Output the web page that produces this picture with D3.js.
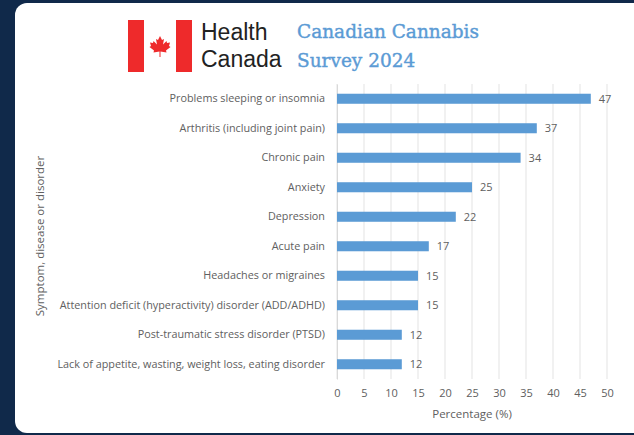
<!DOCTYPE html>
<html>
<head>
<meta charset="utf-8">
<script src="https://cdn.jsdelivr.net/npm/d3@7"></script>
<style>
  html, body { margin: 0; padding: 0; background: #10294a; }
  svg { display: block; }
</style>
</head>
<body>
<svg id="chart" width="634" height="435"></svg>
<script>

// data
const categories = [
  "Problems sleeping or insomnia",
  "Arthritis (including joint pain)",
  "Chronic pain",
  "Anxiety",
  "Depression",
  "Acute pain",
  "Headaches or migraines",
  "Attention deficit (hyperactivity) disorder (ADD/ADHD)",
  "Post-traumatic stress disorder (PTSD)",
  "Lack of appetite, wasting, weight loss, eating disorder"
];
const values = [47, 37, 34, 25, 22, 17, 15, 15, 12, 12];
const xTicks = [0, 5, 10, 15, 20, 25, 30, 35, 40, 45, 50];

const svg = d3.select("#chart");

// white card
svg.append("rect")
  .attr("x", 15).attr("y", 3)
  .attr("width", 640).attr("height", 430)
  .attr("rx", 12).attr("ry", 12)
  .attr("fill", "#ffffff");

// header: flag + wordmark
let head = svg.append("g").attr("transform", "translate(128,20)");
head.append("rect").attr("width", 64).attr("height", 52).attr("fill", "#ffffff");
head.append("rect").attr("width", 16).attr("height", 52).attr("fill", "#ee2a2b");
head.append("rect").attr("x", 48).attr("width", 16).attr("height", 52).attr("fill", "#ee2a2b");
// maple leaf (simplified)
head.append("path")
  .attr("transform", "translate(32,26) scale(0.5)")
  .attr("fill", "#ee2a2b")
  .attr("d", "M0,-20 L4,-12 L8,-14 L6,-3 L13,-10 L14,-6 L20,-7 L18,0 L21,2 L12,9 L13,13 L1,11 L1,22 L-1,22 L-1,11 L-13,13 L-12,9 L-21,2 L-18,0 L-20,-7 L-14,-6 L-13,-10 L-6,-3 L-8,-14 L-4,-12 Z");

svg.append("text").attr("x", 201).attr("y", 40)
  .style("font-family", "Liberation Sans, Arial, sans-serif")
  .style("font-size", "23px").attr("fill", "#222")
  .text("Health");
svg.append("text").attr("x", 201).attr("y", 67)
  .style("font-family", "Liberation Sans, Arial, sans-serif")
  .style("font-size", "23px").attr("fill", "#222")
  .text("Canada");

svg.append("text").attr("x", 297).attr("y", 38)
  .style("font-family", "DejaVu Serif, serif")
  .style("font-size", "18.5px").attr("fill", "#5b9bd5")
  .attr("stroke", "#5b9bd5").attr("stroke-width", 0.4)
  .text("Canadian Cannabis");
svg.append("text").attr("x", 297).attr("y", 67)
  .style("font-family", "DejaVu Serif, serif")
  .style("font-size", "18.5px").attr("fill", "#5b9bd5")
  .attr("stroke", "#5b9bd5").attr("stroke-width", 0.4)
  .text("Survey 2024");

// plot area
const plotLeft = 337, plotRight = 607, plotTop = 84, plotBottom = 379;

const x = d3.scaleLinear().domain([0, 50]).range([plotLeft, plotRight]);
const y = d3.scaleBand().domain(categories).range([plotTop, plotBottom]).paddingInner(0.66).paddingOuter(0.33);

const font = "Open Sans, Liberation Sans, sans-serif";
const grey = "#606060";

// gridlines
svg.append("g")
  .selectAll("line")
  .data(xTicks)
  .enter().append("line")
    .attr("x1", d => x(d)).attr("x2", d => x(d))
    .attr("y1", plotTop).attr("y2", plotBottom)
    .attr("stroke", "#e3e3e3").attr("stroke-width", 1);

// x axis (labels only, like the Excel chart)
let xAxis = svg.append("g")
  .attr("transform", `translate(0,${plotBottom})`)
  .call(d3.axisBottom(x).tickValues(xTicks).tickSize(0).tickPadding(10));
xAxis.select(".domain").remove();
xAxis.selectAll("text")
  .style("font-family", font).style("font-size", "11px").attr("fill", grey);

// y axis
let yAxis = svg.append("g")
  .attr("transform", `translate(${plotLeft},0)`)
  .call(d3.axisLeft(y).tickSize(0).tickPadding(12));
yAxis.select(".domain").attr("stroke", "#d9d9d9");
yAxis.selectAll("text")
  .style("font-family", font).style("font-size", "10.8px").attr("fill", grey);

// bars
svg.selectAll(".bar")
  .data(values)
  .enter().append("rect")
    .attr("class", "bar")
    .attr("x", x(0))
    .attr("y", (d, i) => y(categories[i]))
    .attr("width", d => x(d) - x(0))
    .attr("height", y.bandwidth())
    .attr("fill", "#5b9bd5");

// value labels
svg.selectAll(".val")
  .data(values)
  .enter().append("text")
    .attr("class", "val")
    .attr("x", d => x(d) + 8)
    .attr("y", (d, i) => y(categories[i]) + y.bandwidth() / 2)
    .attr("dy", "0.35em")
    .style("font-family", font).style("font-size", "11px").attr("fill", grey)
    .text(d => d);

// axis titles
svg.append("text")
  .attr("x", (plotLeft + plotRight) / 2).attr("y", 418)
  .attr("text-anchor", "middle")
  .style("font-family", font).style("font-size", "11.5px").attr("fill", grey)
  .text("Percentage (%)");

svg.append("text")
  .attr("transform", "translate(44,236) rotate(-90)")
  .attr("text-anchor", "middle")
  .style("font-family", font).style("font-size", "11.5px").attr("fill", grey)
  .text("Symptom, disease or disorder");

</script>
</body>
</html>
